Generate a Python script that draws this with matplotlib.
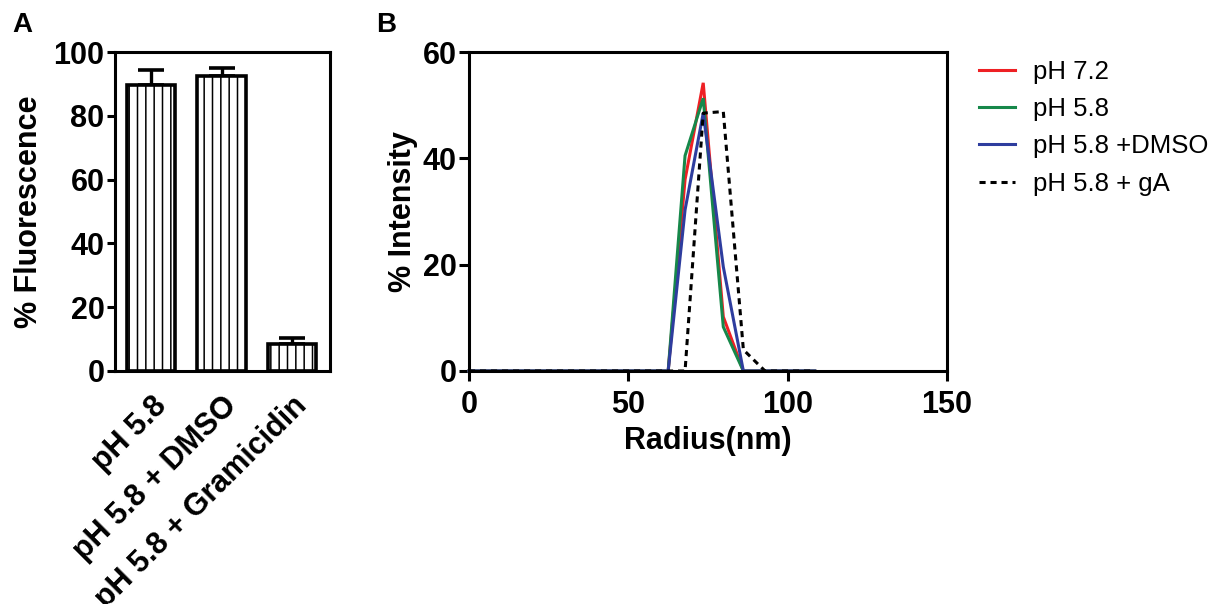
import matplotlib
matplotlib.use("Agg")
import matplotlib.pyplot as plt
from matplotlib.lines import Line2D

plt.rcParams['font.family'] = ['Liberation Sans', 'DejaVu Sans']
plt.rcParams['hatch.linewidth'] = 1.1

# Panel A: relative fluorescence
conditions = ["pH 5.8", "pH 5.8 + DMSO", "pH 5.8 + Gramicidin"]
fluorescence = [89.7, 92.5, 8.5]
fluorescence_err = [4.7, 2.4, 1.9]

# Panel B: size distribution
radius_nm = [0, 62.5, 67.8, 73.5, 79.8, 86.1, 92.9, 100.3, 108.5]
int_ph72 = [0, 0, 36.0, 54.2, 10.2, 0, 0, 0, 0]
int_ph58 = [0, 0, 40.5, 51.3, 8.3, 0, 0, 0, 0]
int_ph58_dmso = [0, 0, 30.3, 48.5, 19.6, 0, 0, 0, 0]
int_ph58_ga = [0, 0, 0, 48.5, 48.8, 4.0, 0, 0, 0]
series_labels = ["pH 7.2", "pH 5.8", "pH 5.8 +DMSO", "pH 5.8 + gA"]
series_colors = ["#EE2024", "#16884A", "#2E3D9E", "black"]

W, H = 1213, 604
fig = plt.figure(figsize=(W / 100, H / 100), dpi=100)

def frac(l, t, r, b):
    return [l / W, 1 - b / H, (r - l) / W, (b - t) / H]

tick_fs = 22
lw_spine = 2.2

# ---------- Panel A ----------
axA = fig.add_axes(frac(115, 52, 330, 371))
pos = list(range(len(conditions)))
axA.bar(pos, fluorescence, width=0.69, color="white", edgecolor="black",
        linewidth=2.6, hatch="||", zorder=2)
axA.errorbar(pos, fluorescence,
             yerr=[[0] * len(fluorescence_err), fluorescence_err],
             fmt="none", ecolor="black", elinewidth=2.4, capsize=9.5,
             capthick=2.6, zorder=1)
axA.set_xlim(-0.514, 2.54)
axA.set_ylim(0, 100)
axA.set_yticks([0, 20, 40, 60, 80, 100])
axA.set_xticks(pos)
axA.set_xticklabels(conditions, rotation=45, ha="right", va="top",
                    rotation_mode="anchor", fontweight="bold", fontsize=tick_fs)
for s in axA.spines.values():
    s.set_linewidth(lw_spine)
axA.tick_params(axis="y", direction="out", length=6, width=lw_spine,
                labelsize=tick_fs, pad=1.5)
axA.tick_params(axis="x", length=0, pad=14)
for lab in axA.get_yticklabels():
    lab.set_fontweight("bold")
axA.set_ylabel("% Fluorescence", fontsize=tick_fs, fontweight="bold", labelpad=7)

# ---------- Panel B ----------
axB = fig.add_axes(frac(469, 52, 947, 371))
series = [int_ph72, int_ph58, int_ph58_dmso, int_ph58_ga]
for vals, lab, col in zip(series, series_labels, series_colors):
    ls = (0, (2.0, 1.6)) if col == "black" else "-"
    axB.plot(radius_nm, vals, color=col, linewidth=2.2, linestyle=ls,
             label=lab, clip_on=False, solid_joinstyle="miter")
axB.set_xlim(0, 150)
axB.set_ylim(0, 60)
axB.set_xticks([0, 50, 100, 150])
axB.set_yticks([0, 20, 40, 60])
for s in axB.spines.values():
    s.set_linewidth(lw_spine)
axB.tick_params(direction="out", length=7, width=lw_spine,
                labelsize=tick_fs, pad=2)
axB.tick_params(axis="x", pad=7)
for lab in axB.get_xticklabels() + axB.get_yticklabels():
    lab.set_fontweight("bold")
axB.set_xlabel("Radius(nm)", fontsize=tick_fs, fontweight="bold", labelpad=4)
axB.set_ylabel("% Intensity", fontsize=tick_fs, fontweight="bold", labelpad=3)

handles = [Line2D([], [], color=c, linewidth=2.2,
                  linestyle=((0, (2.0, 1.6)) if c == "black" else "-"))
           for c in series_colors]
fig.legend(handles, series_labels, loc="upper left",
           bbox_to_anchor=(971 / W, 1 - 52 / H), frameon=False,
           fontsize=18.5, handlelength=1.4, handletextpad=0.7,
           labelspacing=0.52, borderaxespad=0, borderpad=0.3)

# Panel letters
fig.text(12 / W, 1 - 32 / H, "A", fontsize=20, fontweight="bold", va="baseline")
fig.text(376 / W, 1 - 32 / H, "B", fontsize=20, fontweight="bold", va="baseline")

fig.savefig("out.png", dpi=100)
